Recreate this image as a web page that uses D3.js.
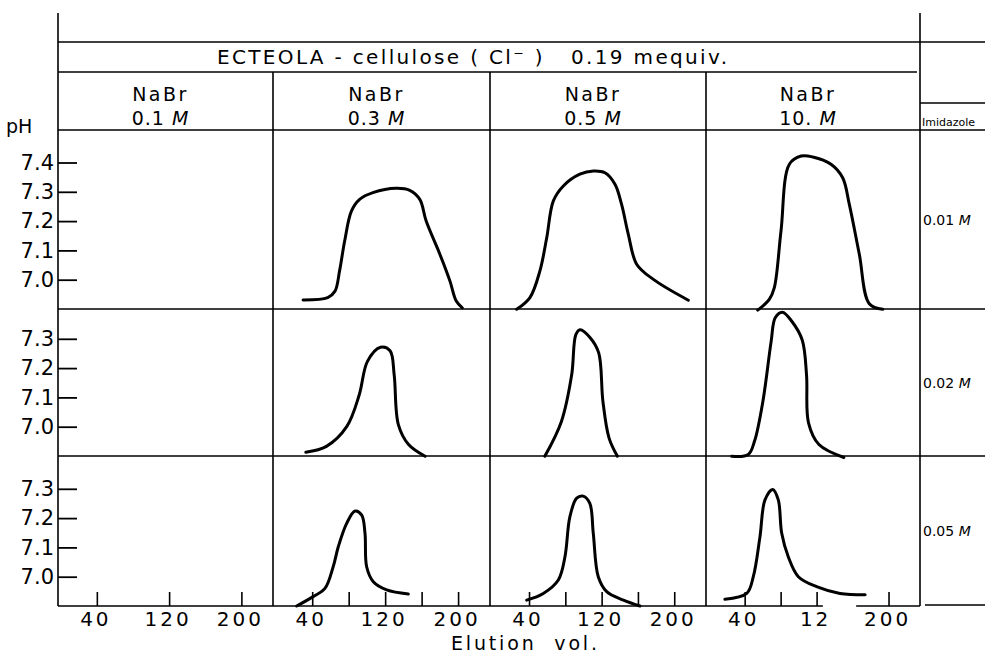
<!DOCTYPE html>
<html>
<head>
<meta charset="utf-8">
<script src="https://cdn.jsdelivr.net/npm/d3@7"></script>
<style>
  body { margin: 0; background: #fff; }
  svg { display: block; font-family: "DejaVu Sans", sans-serif; }
</style>
</head>
<body>
<div class="chart"></div>
<script>
// column / row headings
const nabr = ["0.1", "0.3", "0.5", "10."];
const imidazole = ["0.01", "0.02", "0.05"];

// pH ticks for each row
const pHTicks = [[7.0, 7.1, 7.2, 7.3, 7.4], [7.0, 7.1, 7.2, 7.3], [7.0, 7.1, 7.2, 7.3]];

// elution volume ticks for each column, and the labelled ones
const volTicks = [[40, 120, 200], [40, 80, 120, 160, 200], [40, 80, 120, 160, 200], [40, 80, 120, 200]];
const volLabelAt = [40, 120, 200];
const volLabelText = [["40", "120", "200"], ["40", "120", "200"], ["40", "120", "200"], ["40", "12", "200"]];

// curves: [elution vol, pH]
// imidazole 0.01 M
const im01_nabr03 = [[30, 6.931], [57, 6.939], [65, 6.961], [70, 7.030], [75.6, 7.132], [83, 7.234], [92, 7.274], [106.6, 7.297], [132, 7.312], [147, 7.305], [158, 7.274], [165, 7.200], [180, 7.087], [191, 6.996], [198, 6.927], [204.6, 6.904]];
const im01_nabr05 = [[26.4, 6.899], [41, 6.939], [52, 7.030], [59.5, 7.143], [66.8, 7.269], [77.8, 7.320], [96, 7.360], [111, 7.371], [123.7, 7.365], [134.7, 7.326], [142, 7.257], [149.4, 7.155], [158.6, 7.053], [177, 7.001], [215.5, 6.930]];
const im01_nabr10 = [[54.5, 6.896], [67.4, 6.933], [73, 6.973], [80.4, 7.166], [89.7, 7.394], [102.7, 7.422], [115.7, 7.419], [136, 7.394], [149, 7.348], [156.4, 7.257], [167.5, 7.087], [178.6, 6.918], [193.6, 6.899]];
// imidazole 0.02 M
const im02_nabr03 = [[33, 6.913], [55.6, 6.933], [78, 7.001], [91.6, 7.109], [100.6, 7.223], [115, 7.271], [125.4, 7.259], [129.9, 7.177], [134.5, 7.007], [145.7, 6.939], [163.8, 6.899]];
const im02_nabr05 = [[57.4, 6.899], [75.7, 7.018], [87, 7.177], [91.6, 7.314], [96.3, 7.331], [107.6, 7.303], [116.8, 7.252], [121.4, 7.087], [128.2, 6.961], [137.4, 6.899]];
const im02_nabr10 = [[25.6, 6.899], [44, 6.905], [51, 6.951], [60.3, 7.087], [69.5, 7.292], [74, 7.372], [82, 7.391], [92.6, 7.359], [104, 7.296], [108.8, 7.177], [111, 7.013], [122.6, 6.939], [150.3, 6.895]];
// imidazole 0.05 M
const im05_nabr03 = [[23, 6.9], [41, 6.932], [54, 6.960], [63, 7.034], [68.6, 7.102], [77.8, 7.182], [87, 7.224], [94.3, 7.210], [97.9, 7.148], [99.7, 7.034], [107, 6.983], [121.7, 6.955], [145.4, 6.941]];
const im05_nabr05 = [[37.4, 6.920], [55.7, 6.943], [72.3, 6.989], [79.6, 7.068], [85, 7.204], [92.5, 7.268], [99.8, 7.275], [107, 7.250], [110.8, 7.148], [116.3, 7.000], [125.6, 6.949], [144, 6.920], [162.3, 6.900]];
const im05_nabr10 = [[18, 6.923], [42.3, 6.943], [49.6, 7.000], [57, 7.136], [62.6, 7.262], [71.2, 7.298], [77.4, 7.262], [81.2, 7.148], [88.5, 7.068], [99.7, 7.000], [120, 6.966], [146, 6.943], [174, 6.938]];

const curves = [
  [null, im01_nabr03, im01_nabr05, im01_nabr10],
  [null, im02_nabr03, im02_nabr05, im02_nabr10],
  [null, im05_nabr03, im05_nabr05, im05_nabr10]
];

const width = 985, height = 653;
const colX = [58, 273, 490, 706, 920];
const rowY = [130, 309, 456, 606];
const topLine = 13, frameTop = 42, titleBottom = 72, imidTop = 103;

const svg = d3.select(".chart").append("svg")
    .attr("width", width)
    .attr("height", height);

svg.append("rect").attr("width", width).attr("height", height).attr("fill", "#fff");

const xScales = d3.range(4).map(i => d3.scaleLinear().domain([-3, 235]).range([colX[i], colX[i + 1]]));
const yScales = d3.range(3).map(r => d3.scaleLinear().domain([6.9, 7.4]).range([rowY[r + 1], rowY[r + 1] - 146.5]));

const frame = svg.append("g").attr("stroke", "#000").attr("stroke-width", 1.6).attr("fill", "none");
function hline(y, x1, x2) { frame.append("line").attr("x1", x1).attr("x2", x2).attr("y1", y).attr("y2", y); }
function vline(x, y1, y2) { frame.append("line").attr("x1", x).attr("x2", x).attr("y1", y1).attr("y2", y2); }

vline(colX[0], topLine, rowY[3]);
vline(colX[4], topLine, rowY[3]);
colX.slice(1, 4).forEach(x => vline(x, titleBottom, rowY[3]));
hline(frameTop, colX[0], width);
hline(titleBottom, colX[0], colX[4] - 3);
hline(imidTop, colX[4], width);
rowY.slice(0, 3).forEach(y => hline(y, colX[0], width));
hline(rowY[3] - 1, colX[4] + 5, width);

// bottom baseline, broken in the last column
const baseSegments = [[[-3, 235]], [[-3, 235]], [[-3, 235]], [[-3, 127], [164, 235]]];
baseSegments.forEach((segs, i) => segs.forEach(s => hline(rowY[3], xScales[i](s[0]), xScales[i](s[1]))));

// header text
svg.append("text")
    .attr("x", 472).attr("y", 64)
    .attr("text-anchor", "middle")
    .attr("font-size", 20)
    .attr("textLength", 510).attr("lengthAdjust", "spacing")
    .text("ECTEOLA - cellulose ( Cl\u207B )\u00A0\u00A0 0.19 mequiv.");

nabr.forEach((n, i) => {
  const cx = (colX[i] + colX[i + 1]) / 2 - 5;
  svg.append("text").attr("x", cx).attr("y", 101).attr("text-anchor", "middle")
      .attr("font-size", 19).attr("letter-spacing", 2.5).text("NaBr");
  const t = svg.append("text").attr("x", cx).attr("y", 125).attr("text-anchor", "middle")
      .attr("font-size", 19).attr("letter-spacing", 1);
  t.append("tspan").text(n + " ");
  t.append("tspan").attr("font-style", "italic").text("M");
});

svg.append("text").attr("x", 922).attr("y", 126).attr("font-size", 11).text("Imidazole");
imidazole.forEach((m, r) => {
  const t = svg.append("text").attr("x", colX[4] + 3).attr("y", (rowY[r] + rowY[r + 1]) / 2 + 5).attr("font-size", 14);
  t.append("tspan").text(m + " ");
  t.append("tspan").attr("font-style", "italic").text("M");
});

svg.append("text").attr("x", 6).attr("y", 133).attr("font-size", 19).text("pH");

// y axes
yScales.forEach((y, r) => {
  svg.append("g")
      .attr("transform", `translate(${colX[0]},0)`)
      .call(d3.axisLeft(y).tickValues(pHTicks[r]).tickSizeInner(-19).tickSizeOuter(0).tickPadding(4).tickFormat(d3.format(".1f")))
      .call(g => g.select(".domain").remove())
      .call(g => g.selectAll("line").attr("stroke", "#000").attr("stroke-width", 1.8))
      .call(g => g.selectAll("text").attr("font-size", 21).attr("font-family", "DejaVu Sans").attr("fill", "#000"));
});

// x axes
xScales.forEach((x, i) => {
  svg.append("g")
      .attr("transform", `translate(0,${rowY[3]})`)
      .call(d3.axisBottom(x).tickValues(volTicks[i]).tickSizeInner(-14).tickSizeOuter(0).tickPadding(6)
        .tickFormat(d => { const k = volLabelAt.indexOf(d); return k < 0 ? "" : volLabelText[i][k]; }))
      .call(g => g.select(".domain").remove())
      .call(g => g.selectAll("line").attr("stroke", "#000").attr("stroke-width", 1.6))
      .call(g => g.selectAll("text").attr("font-size", 20).attr("letter-spacing", 3).attr("dx", -1.5)
        .attr("font-family", "DejaVu Sans").attr("fill", "#000"));
});

svg.append("text")
    .attr("x", 524).attr("y", 650)
    .attr("text-anchor", "middle")
    .attr("font-size", 19)
    .attr("textLength", 146).attr("lengthAdjust", "spacing")
    .text("Elution\u00A0 vol.");

// curves
curves.forEach((row, r) => row.forEach((data, c) => {
  if (!data) return;
  const line = d3.line()
      .x(d => xScales[c](d[0]))
      .y(d => yScales[r](d[1]))
      .curve(d3.curveCatmullRom.alpha(0.5));
  svg.append("path")
      .datum(data)
      .attr("d", line)
      .attr("fill", "none")
      .attr("stroke", "#000")
      .attr("stroke-width", 3)
      .attr("stroke-linecap", "round")
      .attr("stroke-linejoin", "round");
}));
</script>
</body>
</html>
